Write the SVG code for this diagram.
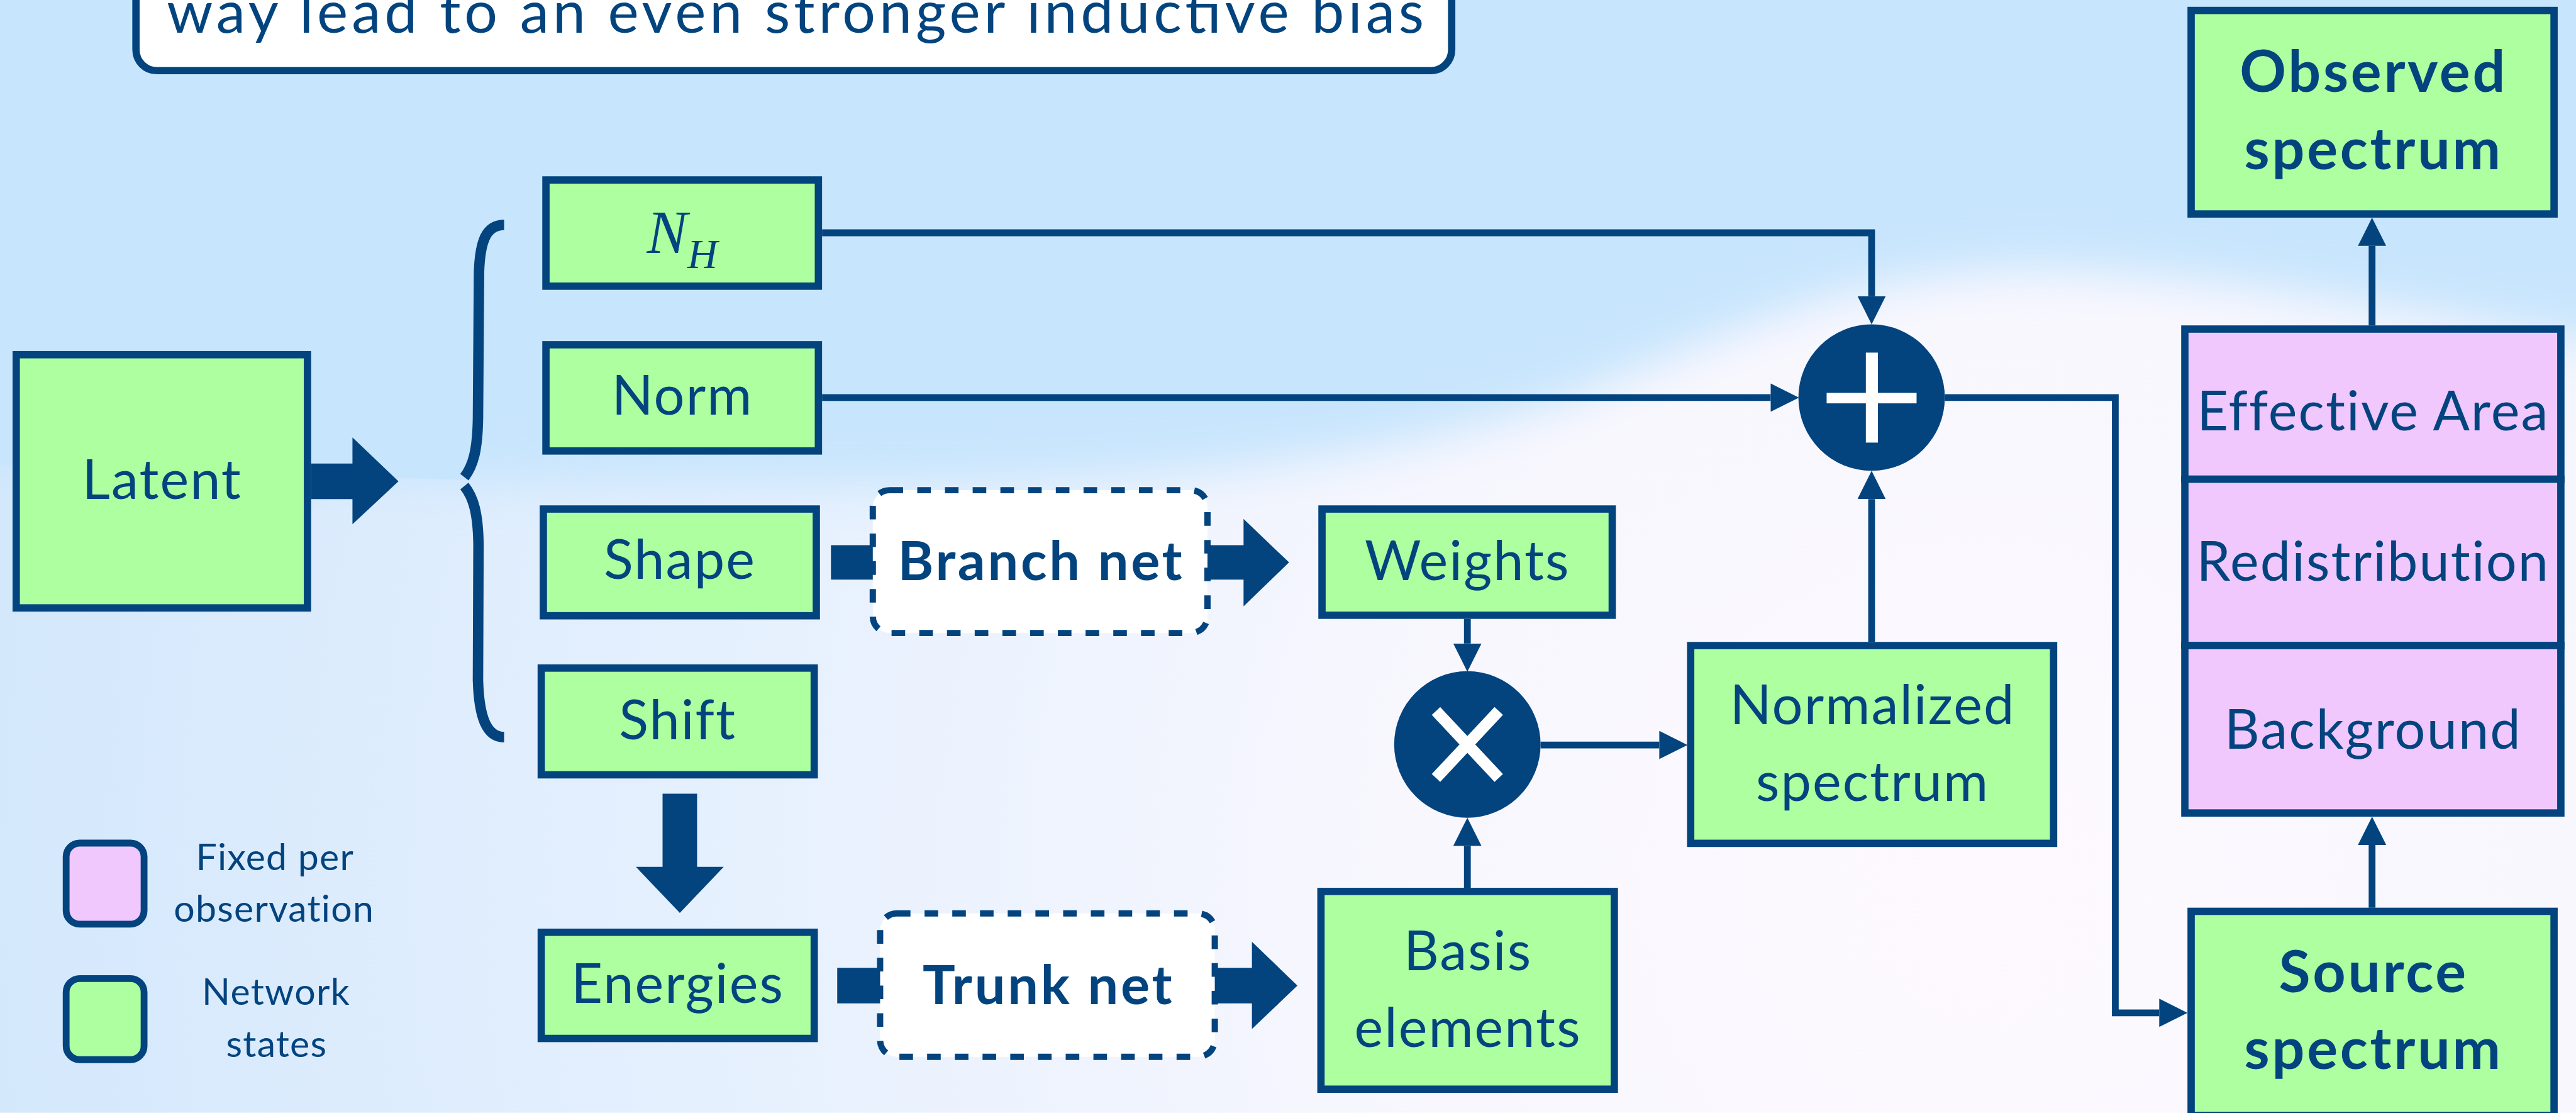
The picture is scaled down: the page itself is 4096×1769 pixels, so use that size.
<svg xmlns="http://www.w3.org/2000/svg" width="4096" height="1769" viewBox="0 0 4096 1769">
  <defs>
    <style>
      .box{stroke:#03447F;stroke-width:14}
      .net{fill:#ADFFA0}
      .fix{fill:#F0C8FE}
      .lbl{font-family:Lato,'Open Sans',sans-serif;font-size:104px;fill:#03447F;text-anchor:middle;letter-spacing:2.5px}
      .bold{font-weight:700;letter-spacing:4.5px}
      .big{font-size:110px}
      .leg{font-size:71px;letter-spacing:1.5px}
      .wire{fill:none;stroke:#03447F;stroke-width:13;marker-end:url(#head)}
      .block{fill:#03447F}
      .dash{fill:#FFFFFF;stroke:#03447F;stroke-width:12;stroke-dasharray:26 27}
      .op{fill:#03447F}
    </style>
    <marker id="head" markerUnits="userSpaceOnUse" markerWidth="54" markerHeight="54" refX="0" refY="27" orient="auto" viewBox="0 0 54 54">
      <path d="M0,0 L54,27 L0,54 Z" fill="#03447F"/>
    </marker>
    <radialGradient id="lowGlow" gradientUnits="userSpaceOnUse" cx="3800" cy="1700" r="3800">
      <stop offset="0" stop-color="#FDF9FF"/>
      <stop offset="0.3" stop-color="#F8F7FE"/>
      <stop offset="0.65" stop-color="#E5F0FE"/>
      <stop offset="1" stop-color="#D4E8FC"/>
    </radialGradient>
    <filter id="soft" x="-10%" y="-10%" width="120%" height="130%">
      <feGaussianBlur stdDeviation="45"/>
    </filter>
    <clipPath id="leftPart">
      <rect x="-200" y="-200" width="1100" height="1400"/>
    </clipPath>
  </defs>

  <g transform="scale(0.83151)">
    <!-- sky backdrop -->
    <g id="backdrop">
      <rect x="0" y="0" width="4926" height="2127" fill="url(#lowGlow)"/>
      <path filter="url(#soft)" fill="#C7E5FD" d="M-300,-300 H5300 V700 C4700,620 4300,520 3900,515 C3550,512 3300,640 3000,760 C2650,880 2200,930 1500,925 L900,918 L-300,886 Z"/>
      <path clip-path="url(#leftPart)" fill="#C7E5FD" d="M-300,-300 H5300 V700 C4700,620 4300,520 3900,515 C3550,512 3300,640 3000,760 C2650,880 2200,930 1500,925 L900,918 L0,889 L-300,886 Z"/>
    </g>

    <!-- caption box at the top -->
    <g id="caption">
      <rect x="260" y="-60" width="2516" height="195" rx="40" fill="#FFFFFF" class="box"/>
      <text class="lbl" x="319" y="63" textLength="2404" lengthAdjust="spacing" style="text-anchor:start;font-size:112px;letter-spacing:0">way lead to an even stronger inductive bias</text>
    </g>

    <!-- thick block arrows (drawn under the net boxes) -->
    <g id="block-arrows">
      <polygon class="block" points="595,886 674,886 674,836 762,920 674,1002 674,954 595,954"/>
      <polygon class="block" points="1589,1042 2378,1042 2378,992 2465,1075 2378,1159 2378,1108 1589,1108"/>
      <polygon class="block" points="1601,1850 2394,1850 2394,1800 2481,1884 2394,1967 2394,1918 1601,1918"/>
      <polygon class="block" points="1267,1517 1333,1517 1333,1657 1384,1657 1300,1745 1216,1657 1267,1657"/>
    </g>

    <!-- brace splitting the latent vector -->
    <g id="brace" fill="none" stroke="#03447F" stroke-width="20">
      <path d="M964,430 C930,430 918,460 916,520 L914,800 C913,860 905,890 888,912"/>
      <path d="M888,929 C905,950 914,980 915,1040 L914,1300 C916,1370 930,1409 964,1409"/>
    </g>

    <!-- connectors -->
    <g id="connectors">
      <path class="wire" d="M1572,445 H3579 V566"/>
      <path class="wire" d="M1572,760 H3386"/>
      <path class="wire" d="M3579,1227 V954"/>
      <path class="wire" d="M3719,760 H4045 V1936 H4129"/>
      <path class="wire" d="M2806,1183 V1230"/>
      <path class="wire" d="M2806,1697 V1617"/>
      <path class="wire" d="M2946,1424 H3173"/>
      <path class="wire" d="M4536,1735 V1615"/>
      <path class="wire" d="M4536,622 V470"/>
    </g>

    <g id="latent">
      <rect class="box net" x="31" y="678" width="557" height="484"/>
      <text class="lbl" x="310" y="954">Latent</text>
    </g>

    <g id="nh">
      <rect class="box net" x="1044" y="344" width="521" height="203"/>
      <text x="1237" y="484" font-family="'Liberation Serif',serif" font-style="italic" font-size="116" fill="#03447F">N<tspan font-size="80" dy="28">H</tspan></text>
    </g>

    <g id="norm">
      <rect class="box net" x="1044" y="659" width="521" height="203"/>
      <text class="lbl" x="1305" y="793">Norm</text>
    </g>

    <g id="shape">
      <rect class="box net" x="1039" y="973" width="522" height="204"/>
      <text class="lbl" x="1300" y="1107">Shape</text>
    </g>

    <g id="shift">
      <rect class="box net" x="1035" y="1277" width="522" height="204"/>
      <text class="lbl" x="1296" y="1413">Shift</text>
    </g>

    <g id="energies">
      <rect class="box net" x="1035" y="1782" width="522" height="203"/>
      <text class="lbl" x="1296" y="1917">Energies</text>
    </g>

    <g id="branch-net">
      <rect class="dash" x="1669" y="937" width="640" height="273" rx="32"/>
      <text class="lbl bold" x="1991" y="1109">Branch net</text>
    </g>

    <g id="trunk-net">
      <rect class="dash" x="1683" y="1746" width="640" height="274" rx="32"/>
      <text class="lbl bold" x="2005" y="1919">Trunk net</text>
    </g>

    <g id="weights">
      <rect class="box net" x="2528" y="973" width="555" height="203"/>
      <text class="lbl" x="2806" y="1109">Weights</text>
    </g>

    <g id="basis">
      <rect class="box net" x="2526" y="1704" width="561" height="378"/>
      <text class="lbl" x="2807" y="1854">Basis</text>
      <text class="lbl" x="2807" y="2001">elements</text>
    </g>

    <g id="multiply">
      <circle class="op" cx="2806" cy="1423" r="140"/>
      <path d="M2746,1359 L2866,1487 M2866,1359 L2746,1487" stroke="#FFFFFF" stroke-width="22" fill="none"/>
    </g>

    <g id="normalized">
      <rect class="box net" x="3233" y="1234" width="694" height="378"/>
      <text class="lbl" x="3581" y="1384">Normalized</text>
      <text class="lbl" x="3581" y="1531">spectrum</text>
    </g>

    <g id="add">
      <circle class="op" cx="3579" cy="760" r="140"/>
      <rect x="3568" y="674" width="23" height="172" fill="#FFFFFF"/>
      <rect x="3493" y="751" width="172" height="20" fill="#FFFFFF"/>
    </g>

    <g id="observed">
      <rect class="box net" x="4190" y="20" width="694" height="389"/>
      <text class="lbl bold big" x="4539" y="176">Observed</text>
      <text class="lbl bold big" x="4539" y="323">spectrum</text>
    </g>

    <g id="effective-area">
      <rect class="box fix" x="4178" y="629" width="719" height="287"/>
      <text class="lbl" x="4538" y="823">Effective Area</text>
    </g>

    <g id="redistribution">
      <rect class="box fix" x="4178" y="916" width="719" height="318"/>
      <text class="lbl" x="4538" y="1110">Redistribution</text>
    </g>

    <g id="background">
      <rect class="box fix" x="4178" y="1234" width="719" height="320"/>
      <text class="lbl" x="4538" y="1431">Background</text>
    </g>

    <g id="source">
      <rect class="box net" x="4190" y="1742" width="694" height="390"/>
      <text class="lbl bold big" x="4539" y="1897">Source</text>
      <text class="lbl bold big" x="4539" y="2043">spectrum</text>
    </g>

    <g id="legend">
      <rect class="fix" x="126.5" y="1611.5" width="149" height="155" rx="26" stroke="#03447F" stroke-width="13"/>
      <text class="lbl leg" x="526" y="1663">Fixed per</text>
      <text class="lbl leg" x="524" y="1762">observation</text>
      <rect class="net" x="126.5" y="1870.5" width="149" height="155" rx="26" stroke="#03447F" stroke-width="13"/>
      <text class="lbl leg" x="528" y="1921">Network</text>
      <text class="lbl leg" x="529" y="2020">states</text>
    </g>
  </g>
</svg>
